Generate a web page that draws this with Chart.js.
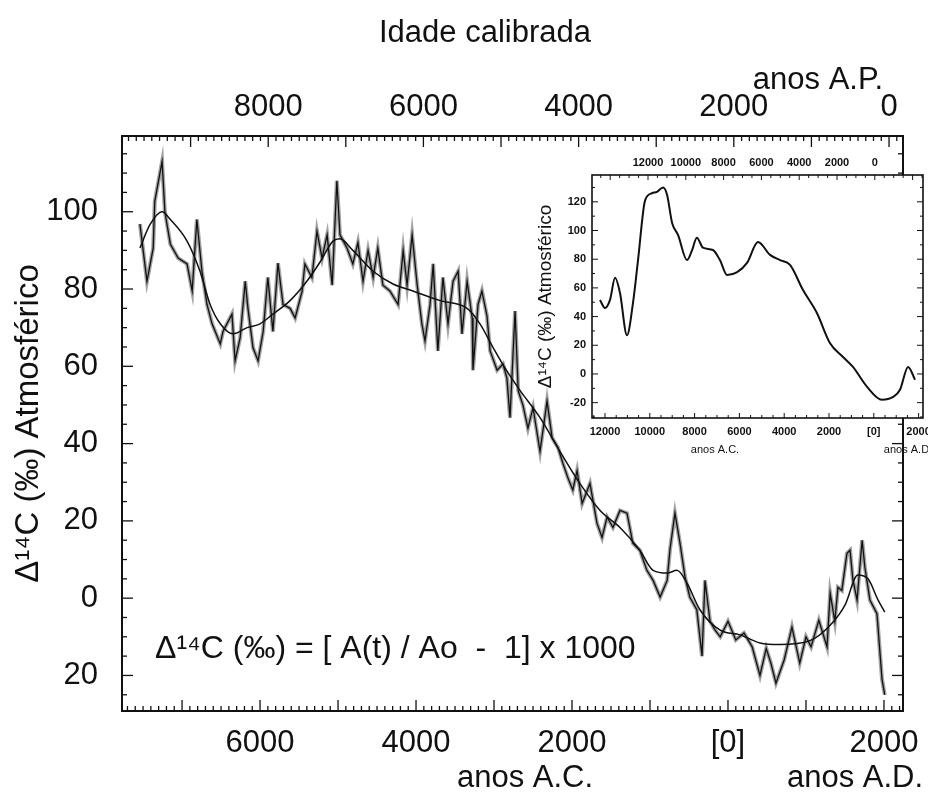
<!DOCTYPE html>
<html>
<head>
<meta charset="utf-8">
<script src="https://cdn.jsdelivr.net/npm/chart.js@4.4.0/dist/chart.umd.min.js"></script>
<style>
html,body{margin:0;padding:0;background:#fff;}
#wrap{position:relative;width:928px;height:797px;overflow:hidden;}
#main{position:absolute;left:0;top:0;}
#inset{position:absolute;left:530px;top:145px;}
</style>
</head>
<body>
<div id="wrap">
  <canvas id="main" width="928" height="797"></canvas>
  <canvas id="inset" width="398" height="320"></canvas>
</div>
<script>
// main series: calendar year (BC negative), delta14C per mil
const noisyYears = [-7540,-7450,-7370,-7350,-7256,-7220,-7150,-7050,-6936,-6870,-6830,-6810,-6745,-6680,-6615,-6510,-6475,-6360,-6320,-6255,
  -6190,-6155,-6090,-6025,-5960,-5900,-5835,-5770,-5705,-5615,-5550,-5460,-5425,-5335,-5270,-5205,-5140,-5075,-5015,-4975,
  -4885,-4810,-4745,-4680,-4615,-4550,-4490,-4425,-4335,-4230,-4165,-4115,-4050,-3985,-3925,-3885,-3820,-3780,-3720,-3655,
  -3590,-3525,-3460,-3410,-3345,-3280,-3270,-3205,-3155,-3090,-3050,-2960,-2885,-2835,-2795,-2730,-2690,-2630,-2565,-2500,
  -2410,-2320,-2255,-2180,-2115,-2050,-1990,-1935,-1870,-1770,-1680,-1615,-1550,-1475,-1385,-1295,-1220,-1130,-1040,-960,
  -870,-780,-745,-680,-615,-550,-490,-400,-333,-295,-230,-165,-100,0,100,205,310,410,490,550,
  615,720,820,920,1000,1065,1165,1270,1310,1370,1410,1460,1525,1565,1600,1655,1720,1755,1820,1910,1975,2010];
const noisyVals = [96.8,82,90.6,102.7,113,100,91.6,88,86.5,79.5,92,98,84.6,76,71,65.8,69,73.5,61.4,67.4,
  82,75,64.8,61.4,69,83,69,86.7,76,75,72.5,79.5,86.5,83,95,88,94,81,108,94,
  90.6,86.5,92,82,90,83,90.6,81,79.5,76,90,81,94,81,71,66.6,76,86.5,64,83,
  71,82,84.6,68.4,82,72.5,59,76,79.5,73,64,59,60.6,57,46.7,74.3,53.7,50,44,49.3,
  38,51,41.5,39,34.8,31,28,33,24.5,29.7,19.4,15.7,21,18.3,22.7,22,14.2,12.4,7.2,4.6,
  0.3,4.6,12.4,22,14.2,5.4,0.3,-3,-15,4.6,-6,-8.3,-10,-6,-10.8,-9,-12.6,-20,-13,-16.8,
  -22,-16,-7.5,-16.8,-10,-12.6,-5.7,-12.6,1.3,-6,2.8,2,11.6,12.4,5,-0.5,15,8,-0.5,-4,-21,-25];
const smoothYears = [-7540,-7410,-7256,-7150,-6936,-6770,-6640,-6510,-6345,-6165,-6000,-5835,-5615,-5400,-5230,-5065,-4975,-4810,-4550,-4295,
  -4040,-3690,-3345,-3180,-3010,-2835,-2665,-2410,-2155,-1900,-1640,-1385,-1130,-960,-780,-655,-525,-360,-100,155,
  410,665,1050,1310,1500,1665,1795,1925,2010];
const smoothVals = [90.6,96.7,100,98,92.4,84.6,76,71,68.4,70,71,73.5,77,82,87,92.4,93,90,84.6,81.3,
  79.5,77,75,71,64.8,58.8,53.7,46.7,38,29.7,22.7,18.3,12.4,7.2,6.5,7.2,3.9,-3,-8.3,-9.5,
  -11.6,-12,-11,-7,-1.8,6,5,-0.5,-3.6];

// inset series
const insetYears = [-12223,-12000,-11777,-11550,-11330,-11020,-10750,-10525,-10210,-9900,-9680,-9410,-9230,-9000,-8740,-8340,-8120,-7900,-7625,-7180,
  -6870,-6550,-6100,-5660,-5170,-4630,-4190,-3740,-3160,-2540,-1960,-1375,-930,-300,365,860,1170,1530,1840];
const insetVals = [51.6,46,51.6,67,56.4,27,49.5,79.4,121,126,127,130,125,105,97,79.4,86,95,88,86.4,
  79.4,69,71,77.4,92,83,79.4,76,58.5,42.5,21.6,11.8,4.9,-9,-18,-16,-11,4.9,-4];

// tick labels
const bottomTicks = [-6000,-4000,-2000,0,2000];
const topTicks = [8000,6000,4000,2000,0];
const yTicks = [100,80,60,40,20,0,-20];
const insetXTicks = [-12000,-10000,-8000,-6000,-4000,-2000,0,2000];
const insetTopTicks = [12000,10000,8000,6000,4000,2000,0];
const insetYTicks = [120,100,80,60,40,20,0,-20];

const FONT = '"Liberation Sans", Arial, Helvetica, sans-serif';
const INK = '#111';
const yTitle = 'Δ¹⁴C (‰) Atmosférico';

function pts(xs, ys){ return xs.map((x,i)=>({x:x, y:ys[i]})); }
function yearLabel(v){ return v===0 ? '[0]' : String(Math.abs(v)); }

// inward tick marks + frame, drawn from the scales
function tickPlugin(specs, frameWidth){
  return {
    id:'inTicks',
    afterDraw(chart){
      const ctx = chart.ctx, a = chart.chartArea;
      ctx.save();
      ctx.strokeStyle = INK;
      Object.keys(specs).forEach(id=>{
        const s = chart.scales[id], sp = specs[id];
        const lo = Math.min(s.min, s.max), hi = Math.max(s.min, s.max);
        ctx.lineWidth = sp.width || 1.3;
        for(let v = Math.ceil(lo/sp.minor)*sp.minor; v <= hi; v += sp.minor){
          const len = (v % sp.major === 0) ? sp.majorLen : sp.minorLen;
          const p = s.getPixelForValue(v);
          ctx.beginPath();
          if(s.position==='bottom'){ ctx.moveTo(p,a.bottom); ctx.lineTo(p,a.bottom-len); }
          else if(s.position==='top'){ ctx.moveTo(p,a.top); ctx.lineTo(p,a.top+len); }
          else if(s.position==='left'){ ctx.moveTo(a.left,p); ctx.lineTo(a.left+len,p); }
          else { ctx.moveTo(a.right,p); ctx.lineTo(a.right-len,p); }
          ctx.stroke();
        }
      });
      ctx.lineWidth = frameWidth;
      ctx.strokeRect(a.left, a.top, a.right-a.left, a.bottom-a.top);
      ctx.restore();
    }
  };
}

function textPlugin(items){
  return {
    id:'texts',
    afterDraw(chart){
      const ctx = chart.ctx;
      ctx.save();
      ctx.fillStyle = INK;
      ctx.textBaseline = 'middle';
      items.forEach(t=>{
        ctx.font = t.font;
        ctx.textAlign = t.align || 'center';
        ctx.fillText(t.text, t.x, t.y);
      });
      ctx.restore();
    }
  };
}

const whiteBox = {
  id:'whiteBox',
  beforeDraw(chart){
    const a = chart.chartArea, ctx = chart.ctx;
    ctx.save(); ctx.fillStyle = '#fff';
    ctx.fillRect(a.left, a.top, a.right-a.left, a.bottom-a.top);
    ctx.restore();
  }
};

// fixed scale sizes, no extra room for overhanging tick labels
function fixH(h){ return s=>{ s.height = h; s.paddingLeft = 0; s.paddingRight = 0; }; }
function fixW(w){ return s=>{ s.width = w; s.paddingTop = 0; s.paddingBottom = 0; }; }

function axis(extra){
  return Object.assign({
    type:'linear',
    grid:{display:false, drawTicks:false},
    border:{display:false}
  }, extra);
}

const bigTicks = {font:{family:FONT, size:31}, color:INK, maxRotation:0, autoSkip:false};

new Chart(document.getElementById('main'), {
  type:'line',
  data:{datasets:[
    {data:pts(smoothYears, smoothVals), borderColor:INK, borderWidth:1.5, pointRadius:0, cubicInterpolationMode:'monotone', order:0},
    {data:pts(noisyYears, noisyVals), borderColor:INK, borderWidth:1.3, pointRadius:0, tension:0, order:1},
    {data:pts(noisyYears, noisyVals), borderColor:'#a3a3a3', borderWidth:4, pointRadius:0, tension:0, order:2}
  ]},
  options:{
    responsive:false, animation:false, events:[],
    layout:{padding:0},
    plugins:{legend:{display:false}, tooltip:{enabled:false}},
    scales:{
      x: axis({position:'bottom', min:-7770, max:2244,
        afterBuildTicks:s=>{ s.ticks = bottomTicks.map(v=>({value:v})); },
        afterFit:fixH(86),
        ticks:Object.assign({padding:14, callback:v=>yearLabel(v)}, bigTicks)}),
      xTop: axis({position:'top', reverse:true, min:-180, max:9884,
        afterBuildTicks:s=>{ s.ticks = topTicks.map(v=>({value:v})); },
        afterFit:fixH(136),
        ticks:Object.assign({padding:10, callback:v=>String(v)}, bigTicks)}),
      y: axis({position:'left', min:-29.2, max:119.6,
        afterBuildTicks:s=>{ s.ticks = yTicks.map(v=>({value:v})); },
        afterFit:fixW(122),
        ticks:Object.assign({padding:24, callback:v=>String(Math.abs(v))}, bigTicks),
        title:{display:true, text:yTitle, color:INK, font:{family:FONT, size:33}, padding:{top:9, bottom:0}}}),
      yR: axis({position:'right', min:-29.2, max:119.6,
        afterFit:fixW(25),
        ticks:{display:false}})
    }
  },
  plugins:[
    tickPlugin({
      x:{minor:100, major:1000, minorLen:5, majorLen:11},
      xTop:{minor:100, major:1000, minorLen:5, majorLen:11},
      y:{minor:5, major:20, minorLen:5, majorLen:11},
      yR:{minor:5, major:20, minorLen:5, majorLen:11}
    }, 2),
    textPlugin([
      {text:'Idade calibrada', x:485, y:33, font:'31px '+FONT},
      {text:'anos A.P.', x:818, y:80, font:'31px '+FONT},
      {text:'anos A.C.', x:525, y:778, font:'31px '+FONT},
      {text:'anos A.D.', x:855, y:778, font:'31px '+FONT},
      {text:'Δ¹⁴C (‰) = [ A(t) / Ao  -  1] x 1000', x:155, y:649, font:'32px '+FONT, align:'left'}
    ])
  ]
});

const smallTicks = {font:{family:FONT, size:11, weight:'bold'}, color:INK, maxRotation:0, autoSkip:false};

new Chart(document.getElementById('inset'), {
  type:'line',
  data:{datasets:[
    {data:pts(insetYears, insetVals), borderColor:INK, borderWidth:2, pointRadius:0, cubicInterpolationMode:'monotone', xAxisID:'ix', yAxisID:'iy'}
  ]},
  options:{
    responsive:false, animation:false, events:[],
    layout:{padding:0},
    plugins:{legend:{display:false}, tooltip:{enabled:false}},
    scales:{
      ix: axis({position:'bottom', min:-12580, max:2196,
        afterBuildTicks:s=>{ s.ticks = insetXTicks.map(v=>({value:v})); },
        afterFit:fixH(47),
        ticks:Object.assign({padding:7, callback:v=>yearLabel(v)}, smallTicks)}),
      ixTop: axis({position:'top', reverse:true, min:-2550, max:14963,
        afterBuildTicks:s=>{ s.ticks = insetTopTicks.map(v=>({value:v})); },
        afterFit:fixH(30),
        ticks:Object.assign({padding:5, callback:v=>String(v)}, smallTicks)}),
      iy: axis({position:'left', min:-30.7, max:138.7,
        afterBuildTicks:s=>{ s.ticks = insetYTicks.map(v=>({value:v})); },
        afterFit:fixW(62),
        ticks:Object.assign({padding:6, callback:v=>String(v)}, smallTicks),
        title:{display:true, text:yTitle, color:INK, font:{family:FONT, size:19}, padding:{top:4, bottom:0}}}),
      iyR: axis({position:'right', min:-30.7, max:138.7,
        afterFit:fixW(5),
        ticks:{display:false}})
    }
  },
  plugins:[
    whiteBox,
    tickPlugin({
      ix:{minor:500, major:2000, minorLen:3, majorLen:5, width:1},
      ixTop:{minor:500, major:2000, minorLen:3, majorLen:5, width:1},
      iy:{minor:10, major:20, minorLen:3, majorLen:6, width:1},
      iyR:{minor:10, major:20, minorLen:3, majorLen:6, width:1}
    }, 1.6),
    textPlugin([
      {text:'anos A.C.', x:185, y:305, font:'11px '+FONT},
      {text:'anos A.D.', x:378, y:305, font:'11px '+FONT}
    ])
  ]
});
</script>
</body>
</html>
